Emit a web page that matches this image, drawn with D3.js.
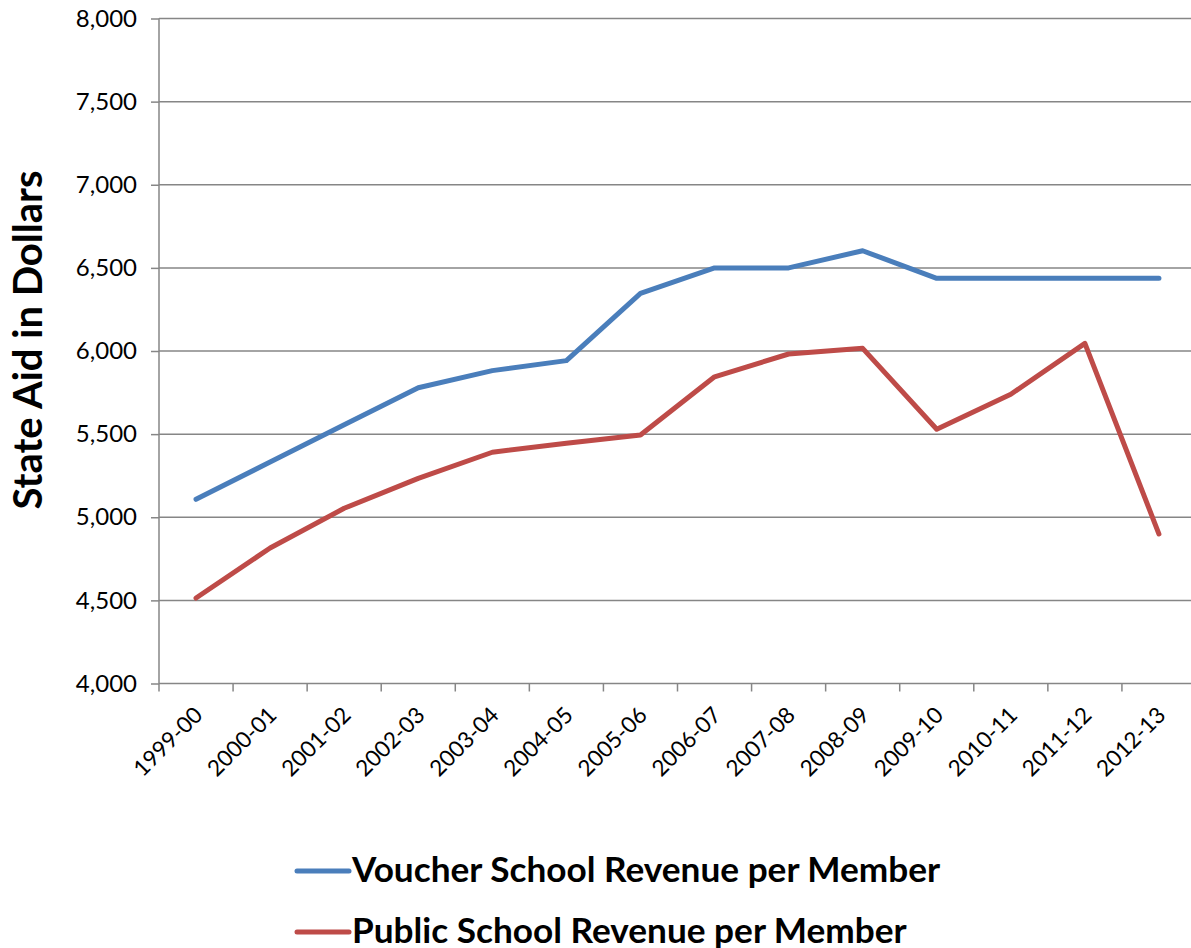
<!DOCTYPE html>
<html><head><meta charset="utf-8">
<script src="https://cdn.jsdelivr.net/npm/d3@7"></script>
<style>body{margin:0;background:#fff}svg{display:block}text{font-family:Lato,"Open Sans",sans-serif}</style>
</head><body><svg id="c" width="1191" height="948"></svg>
<script>
const categories = ["1999-00","2000-01","2001-02","2002-03","2003-04","2004-05","2005-06","2006-07","2007-08","2008-09","2009-10","2010-11","2011-12","2012-13"];
const voucher = [5108,5332,5556,5779,5882,5942,6347,6500,6500,6603,6437,6437,6437,6437];
const publicSchool = [4514,4815,5054,5234,5391,5445,5495,5845,5982,6016,5529,5740,6046,4899];
const yTicks = [4000,4500,5000,5500,6000,6500,7000,7500,8000];
const seriesNames = ["Voucher School Revenue per Member","Public School Revenue per Member"];
const colors = ["#4A7EBB","#BE4B48"];

const svg = d3.select("#c");
const L=159, R=1196, T=18.5, B=683.5;
const x = d3.scaleBand().domain(categories).range([L,R]);
const y = d3.scaleLinear().domain([4000,8000]).range([B,T]);
const fmt = d3.format(",");

// gridlines
svg.append("g").selectAll("line").data(yTicks.filter(d=>d>4000)).join("line")
  .attr("x1",L).attr("x2",1191).attr("y1",d=>y(d)).attr("y2",d=>y(d))
  .attr("stroke","#868686").attr("stroke-width",1.5);

// y axis
const ya = svg.append("g").attr("transform",`translate(${L},0)`)
  .call(d3.axisLeft(y).tickValues(yTicks).tickFormat(fmt).tickSize(8).tickPadding(14));
ya.select(".domain").attr("stroke","#868686").attr("stroke-width",1.5).attr("d",`M0,${T}V${B}`);
ya.selectAll(".tick line").attr("stroke","#868686").attr("stroke-width",1.5);
ya.selectAll(".tick text").attr("font-size",24).attr("fill","#000").attr("font-family","Lato");

// x axis
const xa = svg.append("g").attr("transform",`translate(0,${B})`)
  .call(d3.axisBottom(x).tickSize(0).tickFormat(d=>d));
xa.select(".domain").attr("stroke","#868686").attr("stroke-width",1.5).attr("d",`M${L},0H1191`);
xa.selectAll(".tick text").attr("font-size",22.5).attr("fill","#000").attr("font-family","Lato")
  .attr("text-anchor","end").attr("dy",0).attr("y",0)
  .attr("transform","translate(8,33) rotate(-45)");
// boundary ticks
svg.append("g").selectAll("line").data(categories).join("line")
  .attr("x1",d=>x(d)).attr("x2",d=>x(d)).attr("y1",B).attr("y2",B+8)
  .attr("stroke","#868686").attr("stroke-width",1.5);

// lines
const line = d3.line().x((d,i)=>x(categories[i])+x.bandwidth()/2).y(d=>y(d));
[voucher,publicSchool].forEach((s,i)=>{
  svg.append("path").datum(s).attr("d",line).attr("fill","none")
    .attr("stroke",colors[i]).attr("stroke-width",5).attr("stroke-linecap","round").attr("stroke-linejoin","round");
});

// y title
svg.append("text").attr("transform","translate(42,340) rotate(-90)").attr("text-anchor","middle")
  .attr("font-size",40).attr("font-weight","bold").attr("fill","#000").text("State Aid in Dollars");

// legend
const lg = svg.append("g");
seriesNames.forEach((n,i)=>{
  const yy = 871 + i*61;
  lg.append("line").attr("x1",297).attr("x2",349).attr("y1",yy).attr("y2",yy)
    .attr("stroke",colors[i]).attr("stroke-width",5).attr("stroke-linecap","round");
  lg.append("text").attr("x",352).attr("y",yy+11).attr("font-size",35.2).attr("font-weight","bold")
    .attr("fill","#000").text(n);
});
</script></body></html>
